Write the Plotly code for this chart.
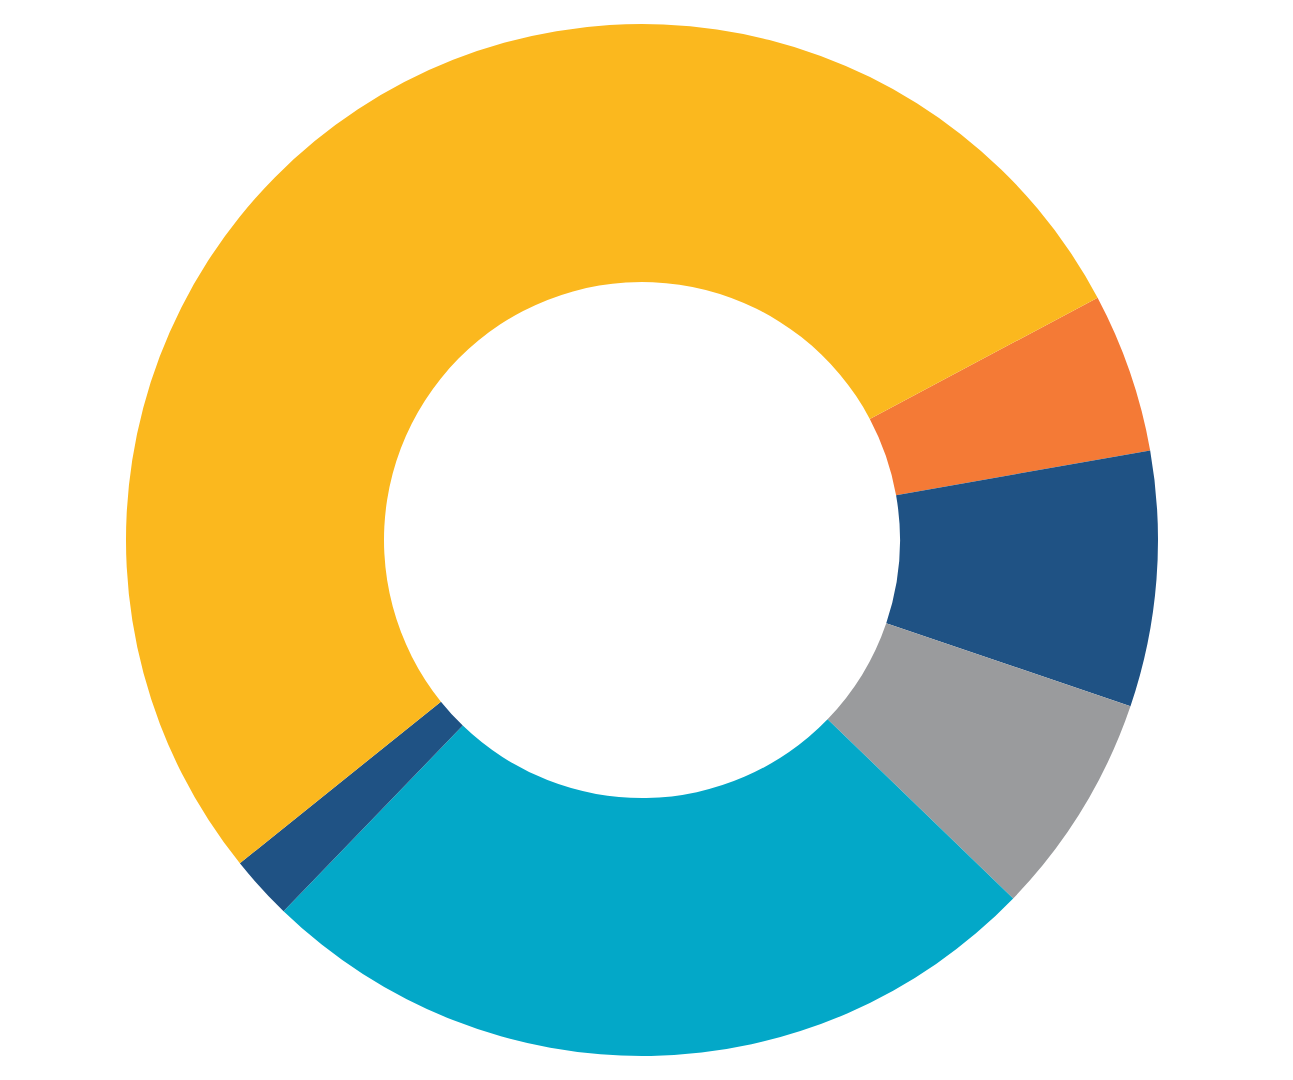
import plotly.graph_objects as go

labels = ["Orange", "Navy A", "Gray", "Cyan", "Navy B", "Yellow"]
values = [5, 8, 7, 25, 2, 53]
colors = ["#F47A36", "#1F5284", "#9A9B9D", "#03A8C8", "#1F5284", "#FBB81E"]

fig = go.Figure(go.Pie(
    labels=labels,
    values=values,
    hole=0.5,
    sort=False,
    direction="clockwise",
    rotation=62,
    marker=dict(colors=colors, line=dict(width=0)),
    textinfo="none",
    hoverinfo="label+percent",
    showlegend=False,
))

fig.update_layout(
    width=1293, height=1080,
    margin=dict(l=0, r=25, t=16, b=32),
    paper_bgcolor="white",
    plot_bgcolor="white",
)

fig.write_html("out.html")
